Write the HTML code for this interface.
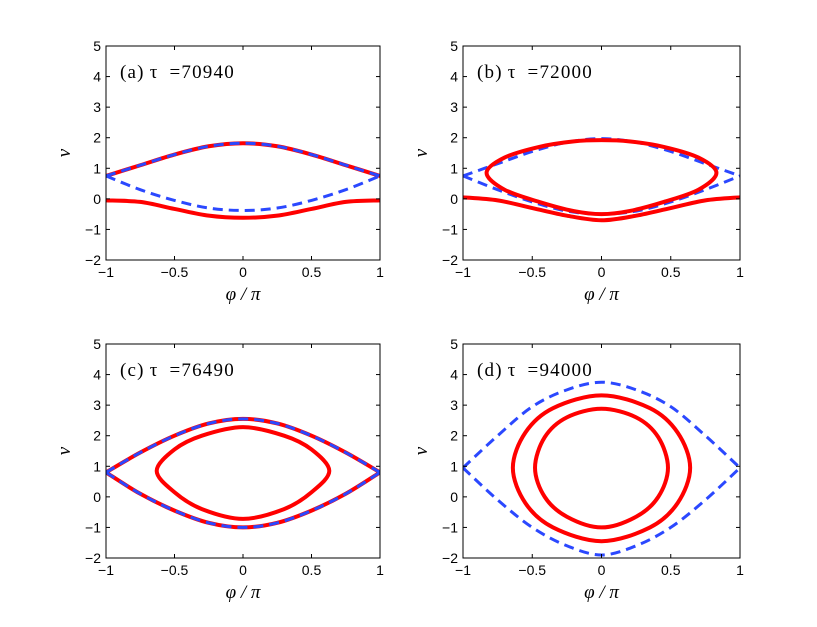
<!DOCTYPE html>
<html><head><meta charset="utf-8"><style>
body{margin:0;background:#fff}
svg{display:block;font-family:"Liberation Sans",sans-serif}
</style></head><body>
<svg id="fig" width="817" height="627" viewBox="0 0 817 627"></svg>
<script>
const xTicks=[-1,-0.5,0,0.5,1];
const xTickLabels=["\u22121","\u22120.5","0","0.5","1"];
const yTicks=[-2,-1,0,1,2,3,4,5];
const yTickLabels=["\u22122","\u22121","0","1","2","3","4","5"];
const panelTitles=["(a)\u2009\u03c4\u2009 =70940","(b)\u2009\u03c4\u2009 =72000","(c)\u2009\u03c4\u2009 =76490","(d)\u2009\u03c4\u2009 =94000"];
const sepPhi=[-1,-0.75,-0.5,-0.25,0,0.25,0.5,0.75,1];

// panel a
const aRedTopV=[0.75,1.1,1.45,1.72,1.82,1.72,1.45,1.1,0.75];
const aBlueLowV=[0.75,0.3,-0.05,-0.3,-0.38,-0.3,-0.05,0.3,0.75];
const aRedLowV=[-0.05,-0.1,-0.33,-0.55,-0.62,-0.55,-0.33,-0.1,-0.05];
// panel b
const bBlueTopV=[0.75,1.15,1.55,1.85,1.97,1.85,1.55,1.15,0.75];
const bBlueLowV=[0.75,0.3,-0.1,-0.4,-0.5,-0.4,-0.1,0.3,0.75];
const bLoopPhi=[-0.83,-0.7,-0.45,-0.2,0,0.2,0.45,0.7,0.83,0.7,0.45,0.2,0,-0.2,-0.45,-0.7];
const bLoopV=[0.85,1.35,1.7,1.88,1.92,1.88,1.7,1.35,0.85,0.3,-0.1,-0.4,-0.5,-0.4,-0.1,0.3];
const bRedLowV=[0.05,-0.05,-0.3,-0.55,-0.7,-0.55,-0.3,-0.05,0.05];
// panel c
const cBlueTopV=[0.8,1.45,2.0,2.4,2.55,2.4,2.0,1.45,0.8];
const cBlueLowV=[0.8,0.1,-0.45,-0.85,-1.0,-0.85,-0.45,0.1,0.8];
const cLoopPhi=[-0.63,-0.5,-0.3,0,0.3,0.5,0.63,0.5,0.3,0,-0.3,-0.5];
const cLoopV=[0.85,1.55,2.0,2.28,2.0,1.55,0.85,0.15,-0.4,-0.72,-0.4,0.15];
// panel d
const dBlueTopV=[0.95,2.0,2.95,3.5,3.75,3.5,2.95,2.0,0.95];
const dBlueLowV=[0.95,-0.1,-1.0,-1.6,-1.9,-1.6,-1.0,-0.1,0.95];
const dOuterPhi=[-0.64,-0.55,-0.35,0,0.35,0.55,0.64,0.55,0.35,0,-0.35,-0.55];
const dOuterV=[0.95,2.1,2.9,3.32,2.9,2.1,0.95,-0.2,-1.0,-1.45,-1.0,-0.2];
const dInnerPhi=[-0.48,-0.41,-0.25,0,0.25,0.41,0.48,0.41,0.25,0,-0.25,-0.41];
const dInnerV=[0.95,1.95,2.6,2.88,2.6,1.95,0.95,0.0,-0.65,-1.0,-0.65,0.0];

const NS="http://www.w3.org/2000/svg";
const svg=document.getElementById('fig');
function mk(tag,attrs,parent){const e=document.createElementNS(NS,tag);for(const k in attrs)e.setAttribute(k,attrs[k]);(parent||svg).appendChild(e);return e;}
const panels=[{x0:106,x1:380,y0:46,y1:260},{x0:463,x1:740,y0:46,y1:260},{x0:106,x1:380,y0:344,y1:558},{x0:463,x1:740,y0:344,y1:558}];
function sx(p,v){return p.x0+(v+1)/2*(p.x1-p.x0);}
function sy(p,v){return p.y1-(v+2)/7*(p.y1-p.y0);}
function pathD(p,phis,vs,closed){
  const pts=phis.map((f,i)=>[sx(p,f),sy(p,vs[i])]);const n=pts.length;
  const get=i=>closed?pts[(i+n)%n]:pts[Math.max(0,Math.min(n-1,i))];
  let d="M"+pts[0][0].toFixed(2)+","+pts[0][1].toFixed(2);
  const segs=closed?n:n-1;
  for(let i=0;i<segs;i++){const p0=get(i-1),p1=get(i),p2=get(i+1),p3=get(i+2);
    const c1=[p1[0]+(p2[0]-p0[0])/6,p1[1]+(p2[1]-p0[1])/6],c2=[p2[0]-(p3[0]-p1[0])/6,p2[1]-(p3[1]-p1[1])/6];
    d+=" C"+c1.map(v=>v.toFixed(2)).join(",")+" "+c2.map(v=>v.toFixed(2)).join(",")+" "+p2[0].toFixed(2)+","+p2[1].toFixed(2);}
  if(closed)d+="Z";return d;}
function red(g,p,phis,vs,closed,name){const e=mk('path',{d:pathD(p,phis,vs,closed),fill:'none',stroke:'#ff0000','stroke-width':4,'stroke-linecap':'round'},g);
  
  }
function blue(g,p,phis,vs,closed,name){const e=mk('path',{d:pathD(p,phis,vs,closed),fill:'none',stroke:'#2b48ff','stroke-width':3,'stroke-dasharray':'10,6'},g);
  
  }

panels.forEach((p,k)=>{
  const g=mk('g',{});
  
  
  const clipId='clip'+k;
  const cp=mk('clipPath',{id:clipId},g);mk('rect',{x:p.x0,y:p.y0,width:p.x1-p.x0,height:p.y1-p.y0},cp);
  const curves=mk('g',{'clip-path':'url(#'+clipId+')'},g);
  
  
  if(k==0){red(curves,p,sepPhi,aRedTopV,false,'red-upper-orbit');blue(curves,p,sepPhi,aRedTopV,false,'blue-separatrix-upper');blue(curves,p,sepPhi,aBlueLowV,false,'blue-separatrix-lower');red(curves,p,sepPhi,aRedLowV,false,'red-lower-orbit');}
  if(k==1){blue(curves,p,sepPhi,bBlueTopV,false,'blue-separatrix-upper');blue(curves,p,sepPhi,bBlueLowV,false,'blue-separatrix-lower');red(curves,p,bLoopPhi,bLoopV,true,'red-closed-orbit');red(curves,p,sepPhi,bRedLowV,false,'red-lower-orbit');}
  if(k==2){red(curves,p,sepPhi,cBlueTopV,false,'red-orbit-upper');red(curves,p,sepPhi,cBlueLowV,false,'red-orbit-lower');blue(curves,p,sepPhi,cBlueTopV,false,'blue-separatrix-upper');blue(curves,p,sepPhi,cBlueLowV,false,'blue-separatrix-lower');red(curves,p,cLoopPhi,cLoopV,true,'red-closed-orbit');}
  if(k==3){blue(curves,p,sepPhi,dBlueTopV,false,'blue-separatrix-upper');blue(curves,p,sepPhi,dBlueLowV,false,'blue-separatrix-lower');red(curves,p,dOuterPhi,dOuterV,true,'red-outer-orbit');red(curves,p,dInnerPhi,dInnerV,true,'red-inner-orbit');}
  const fr=mk('rect',{x:p.x0,y:p.y0,width:p.x1-p.x0,height:p.y1-p.y0,fill:'none',stroke:'#000','stroke-width':1},g);
  
  
  xTicks.forEach((t,i)=>{const x=sx(p,t);
    mk('line',{x1:x,x2:x,y1:p.y1,y2:p.y1-4,stroke:'#000'},g);mk('line',{x1:x,x2:x,y1:p.y0,y2:p.y0+4,stroke:'#000'},g);
    const tx=mk('text',{x:x,y:p.y1+17,'text-anchor':'middle','font-size':14},g);tx.textContent=xTickLabels[i];
    
    });
  yTicks.forEach((t,i)=>{const y=sy(p,t);
    mk('line',{x1:p.x0,x2:p.x0+4,y1:y,y2:y,stroke:'#000'},g);mk('line',{x1:p.x1,x2:p.x1-4,y1:y,y2:y,stroke:'#000'},g);
    const tx=mk('text',{x:p.x0-5,y:y+5,'text-anchor':'end','font-size':14},g);tx.textContent=yTickLabels[i];
    
    });
  const ti=mk('text',{x:p.x0+14,y:p.y0+32,'font-size':19,'letter-spacing':'1.2','font-family':'"Liberation Serif",serif'},g);ti.textContent=panelTitles[k];
  
  
  const xl=mk('text',{x:(p.x0+p.x1)/2,y:p.y1+40,'text-anchor':'middle','font-size':19,'font-style':'italic','font-family':'"Liberation Serif",serif'},g);xl.textContent='\u03c6 / \u03c0';
  
  
  const yx=p.x0-36,yy=(p.y0+p.y1)/2;
  const yl=mk('text',{x:yx,y:yy,'text-anchor':'middle','font-size':19,'font-style':'italic','font-family':'"Liberation Serif",serif',transform:'rotate(-90 '+yx+' '+yy+')'},g);yl.textContent='v';
  
  
});
</script>
</body></html>
